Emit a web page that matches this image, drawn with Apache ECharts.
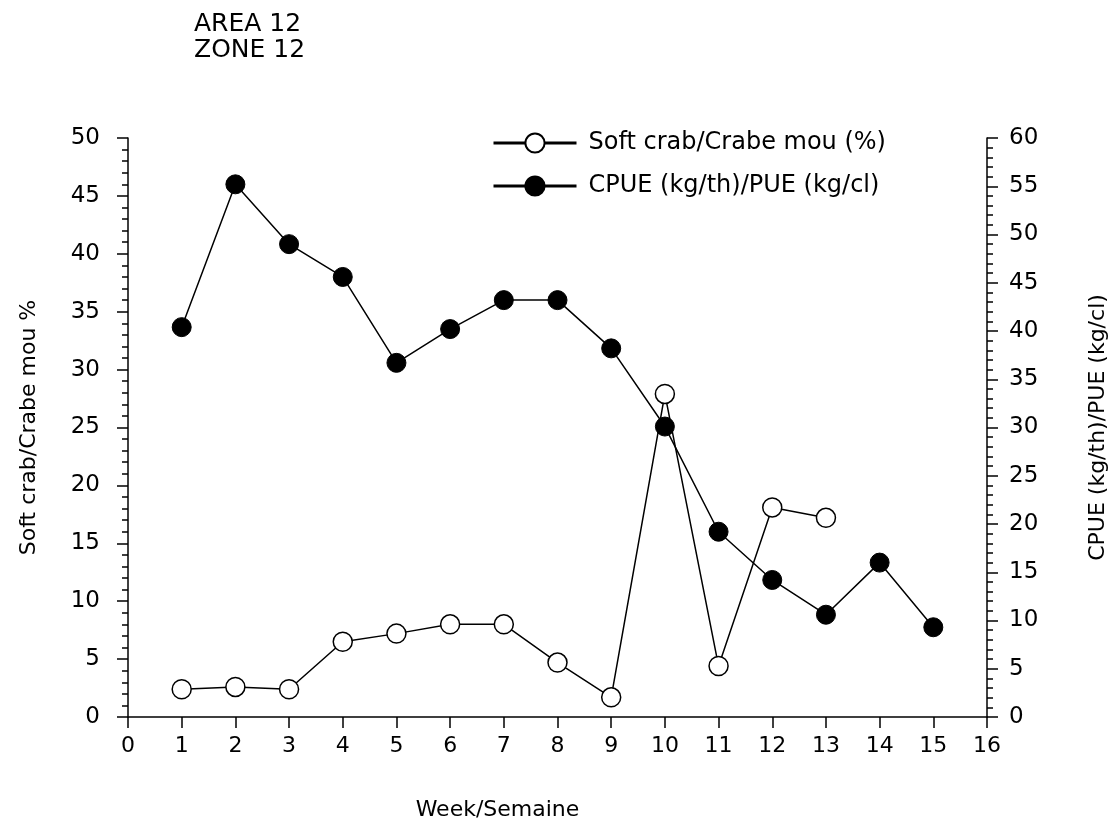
<!DOCTYPE html>
<html>
<head>
<meta charset="utf-8">
<script src="https://cdn.jsdelivr.net/npm/echarts@6/dist/echarts.min.js"></script>
<style>
  html, body { margin: 0; padding: 0; background: #fff; }
  #app { width: 1113px; height: 830px; }
</style>
</head>
<body>
<div id="app"></div>
<script>
// values
const softWeeks = [1, 2, 3, 4, 5, 6, 7, 8, 9, 10, 11, 12, 13];
const softCrab = [2.4, 2.6, 2.4, 6.5, 7.2, 8.0, 8.0, 4.7, 1.7, 27.9, 4.4, 18.1, 17.2];
const cpueWeeks = [1, 2, 3, 4, 5, 6, 7, 8, 9, 10, 11, 12, 13, 14, 15];
const cpue = [40.4, 55.2, 49.0, 45.6, 36.7, 40.2, 43.2, 43.2, 38.2, 30.1, 19.2, 14.2, 10.6, 16.0, 9.3];
const titleLines = ['AREA 12', 'ZONE 12'];
const softName = 'Soft crab/Crabe mou (%)';
const cpueName = 'CPUE (kg/th)/PUE (kg/cl)';

const font = 'DejaVu Sans';
const black = '#000';

function pairs(xs, ys) {
	return xs.map((x, i) => [x, ys[i]]);
}

const axisBase = {
	axisLine: { show: true, lineStyle: { color: black, width: 1.5 } },
	axisTick: { show: true, length: 11, lineStyle: { color: black, width: 1.5 } },
	splitLine: { show: false },
	nameTextStyle: { color: black, fontFamily: font, fontSize: 22 }
};

let chart = echarts.init(document.getElementById('app'), null, { renderer: 'canvas' });
chart.setOption({
	backgroundColor: '#fff',
	animation: false,
	title: {
		text: titleLines.join('\n'),
		left: 189,
		top: 6,
		textStyle: { color: black, fontFamily: font, fontSize: 25, fontWeight: 'normal', lineHeight: 26 }
	},
	legend: {
		orient: 'vertical',
		left: 487,
		top: 126,
		itemWidth: 83,
		itemHeight: 24,
		itemGap: 19,
		data: [softName, cpueName],
		lineStyle: { width: 3 },
		textStyle: { color: black, fontFamily: font, fontSize: 24, padding: [0, 0, 0, 7] }
	},
	grid: { left: 128, right: 126, top: 138, bottom: 113, containLabel: false, outerBoundsMode: 'none' },
	xAxis: Object.assign({}, axisBase, {
		type: 'value',
		min: 0,
		max: 16,
		interval: 1,
		name: 'Week/Semaine',
		nameLocation: 'middle',
		nameGap: 82,
		nameTextStyle: { color: black, fontFamily: font, fontSize: 22, padding: [0, 120, 0, 0] },
		axisLabel: { color: black, fontFamily: font, fontSize: 22, margin: 18 }
	}),
	yAxis: [
		Object.assign({}, axisBase, {
			type: 'value',
			min: 0,
			max: 50,
			interval: 5,
			position: 'left',
			name: 'Soft crab/Crabe mou %',
			nameLocation: 'middle',
			nameRotate: 90,
			nameGap: 88,
			minorTick: { show: true, splitNumber: 5, length: 6, lineStyle: { color: black, width: 1.5 } },
			axisLabel: { color: black, fontFamily: font, fontSize: 23, margin: 28 }
		}),
		Object.assign({}, axisBase, {
			type: 'value',
			min: 0,
			max: 60,
			interval: 5,
			position: 'right',
			name: cpueName,
			nameLocation: 'middle',
			nameRotate: 90,
			nameGap: 100,
			minorTick: { show: true, splitNumber: 5, length: 6, lineStyle: { color: black, width: 1.5 } },
			axisLabel: { color: black, fontFamily: font, fontSize: 23, margin: 22 }
		})
	],
	series: [
		{
			name: softName,
			type: 'line',
			yAxisIndex: 0,
			data: pairs(softWeeks, softCrab),
			symbol: 'circle',
			symbolSize: 19,
			showAllSymbol: true,
			lineStyle: { color: black, width: 1.5 },
			itemStyle: { color: '#fff', borderColor: black, borderWidth: 1.5 },
			z: 3
		},
		{
			name: cpueName,
			type: 'line',
			yAxisIndex: 1,
			data: pairs(cpueWeeks, cpue),
			symbol: 'circle',
			symbolSize: 19,
			showAllSymbol: true,
			lineStyle: { color: black, width: 1.5 },
			itemStyle: { color: black, borderColor: black, borderWidth: 1 },
			z: 2
		}
	]
});
</script>
</body>
</html>
